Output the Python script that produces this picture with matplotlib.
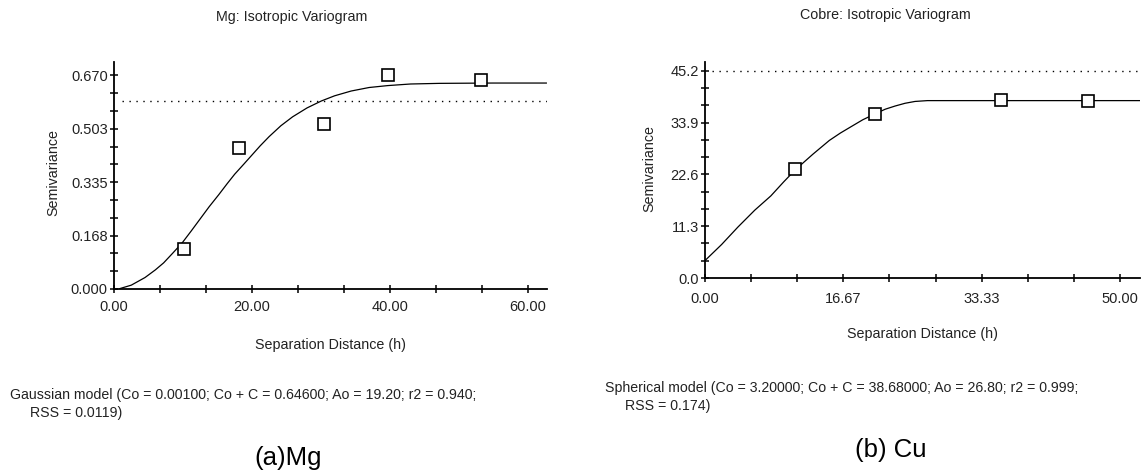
import matplotlib
matplotlib.use("Agg")
import matplotlib.pyplot as plt
from matplotlib.ticker import FixedLocator

plt.rcParams['font.family'] = ['Liberation Sans', 'DejaVu Sans']

mg_lag = [10.2, 18.1, 30.5, 39.8, 53.2]
mg_semivar = [0.125, 0.441, 0.519, 0.672, 0.657]
mg_model_x = [0.8, 2.5, 4.5, 6.0, 7.2, 8.5, 9.9, 11.2, 12.5, 13.8, 15.2, 16.4, 17.5,
              18.8, 20.0, 21.2, 22.5, 24.2, 25.9, 28.0, 30.1, 32.0, 34.4, 37.0, 39.7,
              43.0, 47.2, 55.0, 62.7]
mg_model_y = [0.001, 0.012, 0.036, 0.060, 0.082, 0.112, 0.145, 0.182, 0.220, 0.258,
              0.296, 0.330, 0.360, 0.391, 0.420, 0.449, 0.478, 0.512, 0.540, 0.568,
              0.590, 0.606, 0.621, 0.632, 0.638, 0.643, 0.645, 0.646, 0.646]
mg_variance = 0.589
mg_yticks = [0.0, 0.1675, 0.335, 0.5025, 0.670]
mg_yticklabels = ['0.000', '0.168', '0.335', '0.503', '0.670']
mg_xticks = [0, 20, 40, 60]
mg_xticklabels = ['0.00', '20.00', '40.00', '60.00']

# Cu: experimental variogram points and fitted spherical model
cu_lag = [10.9, 20.5, 35.6, 46.1]
cu_semivar = [23.7, 35.7, 38.9, 38.7]
cu_model_x = [0.0, 2.0, 3.96, 6.0, 7.93, 9.5, 10.88, 13.0, 14.98, 16.3, 17.6, 19.0,
              20.5, 21.7, 22.9, 24.1, 25.3, 26.8, 40.0, 52.4]
cu_model_y = [3.8, 7.3, 11.1, 14.8, 17.9, 21.0, 23.6, 27.0, 30.0, 31.6, 33.0, 34.5,
              35.8, 36.8, 37.5, 38.1, 38.5, 38.68, 38.68, 38.68]
cu_variance = 45.2
cu_yticks = [0.0, 11.3, 22.6, 33.9, 45.2]
cu_yticklabels = ['0.0', '11.3', '22.6', '33.9', '45.2']
cu_xticks = [0, 16.667, 33.333, 50.0]
cu_xticklabels = ['0.00', '16.67', '33.33', '50.00']

TXT = '#222222'


def draw_panel(ax, lag, semivar, mx, my, variance, xticks, xlabels,
               yticks, ylabels, xmax, ymax, dot_start, xpad):
    ax.plot(mx, my, color='black', linewidth=0.9)
    ax.plot(lag, semivar, linestyle='none', marker='s', markersize=8.5,
            markerfacecolor='white', markeredgecolor='black', markeredgewidth=1.2)
    ax.axhline(variance, xmin=dot_start, xmax=1, color='black', linewidth=1.0,
               linestyle=(0, (1, 4)))
    ax.set_xlim(0, xmax)
    ax.set_ylim(0, ymax)

    step_x = xticks[1] - xticks[0]
    ax.xaxis.set_major_locator(FixedLocator(xticks))
    ax.set_xticklabels(xlabels)
    ax.xaxis.set_minor_locator(FixedLocator(
        [t + step_x * k / 3 for t in xticks for k in (1, 2) if t + step_x * k / 3 < xmax]))
    step_y = yticks[1] - yticks[0]
    ax.yaxis.set_major_locator(FixedLocator(yticks))
    ax.set_yticklabels(ylabels)
    ax.yaxis.set_minor_locator(FixedLocator(
        [t + step_y * k / 3 for t in yticks[:-1] for k in (1, 2)]))

    for side in ['top', 'right']:
        ax.spines[side].set_visible(False)
    for side in ['left', 'bottom']:
        ax.spines[side].set_linewidth(1.3)
    ax.tick_params(which='both', direction='inout', length=6, width=1.1,
                   labelsize=10.5, colors='black', labelcolor=TXT)
    ax.tick_params(axis='y', which='both', pad=1.5)
    ax.tick_params(axis='x', which='both', pad=xpad)

    ax.set_xlabel('Separation Distance (h)', fontsize=10.3, color=TXT)
    ax.set_ylabel('Semivariance', fontsize=10.3, color=TXT, va='center')


fig = plt.figure(figsize=(11.46, 4.71), dpi=100)

ax1 = fig.add_axes([114 / 1146, 1 - 289 / 471, 433 / 1146, 227 / 471])
draw_panel(ax1, mg_lag, mg_semivar, mg_model_x, mg_model_y,
           mg_variance, mg_xticks, mg_xticklabels, mg_yticks, mg_yticklabels,
           62.8, 0.712, 0.018, 5)
ax1.xaxis.set_label_coords(0.5, -(338 - 289) / 227)
ax1.yaxis.set_label_coords(-(114 - 53) / 433, (289 - 173) / 227)

ax2 = fig.add_axes([705 / 1146, 1 - 278 / 471, 435 / 1146, 216 / 471])
draw_panel(ax2, cu_lag, cu_semivar, cu_model_x, cu_model_y,
           cu_variance, cu_xticks, cu_xticklabels, cu_yticks, cu_yticklabels,
           52.4, 47.1, 0.016, 7)
ax2.xaxis.set_label_coords(0.5, -(327 - 278) / 216)
ax2.yaxis.set_label_coords(-(705 - 649) / 435, (278 - 168) / 216)

fig.text(292 / 1146, 1 - 17 / 471, 'Mg: Isotropic Variogram',
         fontsize=10.3, ha='center', va='center', color=TXT)
fig.text(885 / 1146, 1 - 15 / 471, 'Cobre: Isotropic Variogram',
         fontsize=10.3, ha='center', va='center', color=TXT)

fig.text(10 / 1146, 1 - 395 / 471,
         'Gaussian model (Co = 0.00100; Co + C = 0.64600; Ao = 19.20; r2 = 0.940;',
         fontsize=10.2, va='center', ha='left', color=TXT)
fig.text(30 / 1146, 1 - 413 / 471, 'RSS = 0.0119)',
         fontsize=10.2, va='center', ha='left', color=TXT)
fig.text(605 / 1146, 1 - 388 / 471,
         'Spherical model (Co = 3.20000; Co + C = 38.68000; Ao = 26.80; r2 = 0.999;',
         fontsize=10.2, va='center', ha='left', color=TXT)
fig.text(625 / 1146, 1 - 406 / 471, 'RSS = 0.174)',
         fontsize=10.2, va='center', ha='left', color=TXT)

fig.text(288 / 1146, 1 - 458 / 471, '(a)Mg', fontsize=18.5, ha='center', va='center')
fig.text(891 / 1146, 1 - 450 / 471, '(b) Cu', fontsize=18.5, ha='center', va='center')

fig.savefig('out.png', dpi=100)
